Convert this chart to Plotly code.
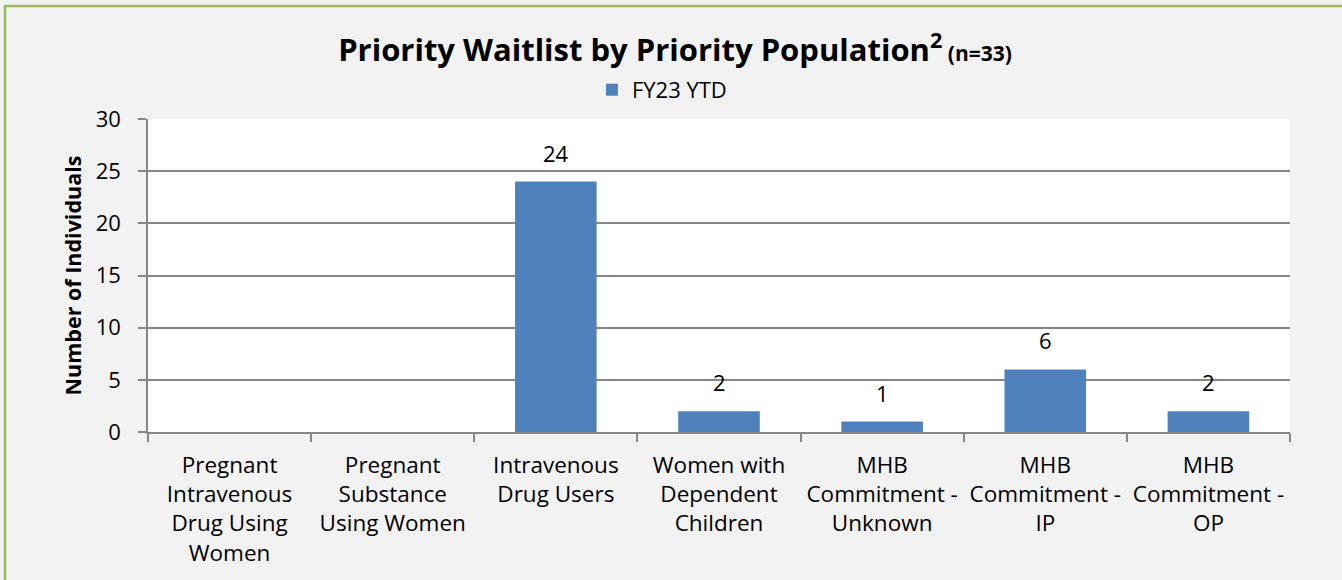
import plotly.graph_objects as go

categories = [
    "Pregnant<br>Intravenous<br>Drug Using<br>Women",
    "Pregnant<br>Substance<br>Using Women",
    "Intravenous<br>Drug Users",
    "Women with<br>Dependent<br>Children",
    "MHB<br>Commitment -<br>Unknown",
    "MHB<br>Commitment -<br>IP",
    "MHB<br>Commitment -<br>OP",
]
values = [0, 0, 24, 2, 1, 6, 2]
series_name = "FY23 YTD"
y_ticks = [0, 5, 10, 15, 20, 25, 30]

FONT = "Open Sans"

fig = go.Figure()
fig.add_trace(go.Bar(
    x=categories, y=values, name=series_name,
    marker=dict(color="#4F81BD", line=dict(width=0)),
))

# data labels (zero values are not labelled in the reference)
for cat, v in zip(categories, values):
    if v:
        fig.add_annotation(
            x=cat, y=v, text=str(v), showarrow=False,
            yanchor="bottom", yshift=12,
            font=dict(family=FONT, size=22, color="black"),
        )

fig.update_layout(
    width=1342, height=580,
    margin=dict(l=148, r=52, t=119, b=148, autoexpand=False),
    paper_bgcolor="#F2F2F2", plot_bgcolor="white",
    bargap=0.5,
    showlegend=True,
    title=dict(
        text="<b>Priority Waitlist by Priority Population<sup>2</sup></b><b><span style='font-size:21px'> (n=33)</span></b>",
        x=0.503, xanchor="center", y=0.913, yanchor="middle",
        font=dict(family=FONT, size=31, color="black"),
    ),
    legend=dict(
        orientation="h", x=0.45, xanchor="center", y=1.093, yanchor="middle",
        font=dict(family=FONT, size=22, color="black"),
        bgcolor="rgba(0,0,0,0)",
    ),
    xaxis=dict(
        type="category", tickson="boundaries", ticks="outside", ticklen=8,
        tickcolor="#878787", tickwidth=1.5,
        showline=True, linecolor="#878787", linewidth=1.5,
        showgrid=False, tickangle=0, automargin=False,
        tickfont=dict(family=FONT, size=22.5, color="black"),
        ticklabelstandoff=12,
    ),
    yaxis=dict(
        range=[0, 30], tickvals=y_ticks, ticks="outside", ticklen=8,
        tickcolor="#878787", tickwidth=1.5,
        showline=True, linecolor="#878787", linewidth=1.5,
        gridcolor="#878787", gridwidth=1.5,
        zeroline=False, automargin=False,
        tickfont=dict(family=FONT, size=22, color="black"),
        ticklabelstandoff=13,
        title=dict(text="<b>Number of Individuals</b>", standoff=8,
                   font=dict(family=FONT, size=21.5, color="black")),
    ),
    shapes=[dict(
        type="rect", xref="paper", yref="paper",
        x0=(5 - 148) / 1142, x1=1.2, y0=-0.7, y1=(432 - 6) / 313,
        line=dict(color="#9BBB59", width=2.5), fillcolor="rgba(0,0,0,0)",
        layer="below",
    )],
)

fig.write_html("out.html", config={"displayModeBar": False},
               post_script="document.body.style.margin='0';")
